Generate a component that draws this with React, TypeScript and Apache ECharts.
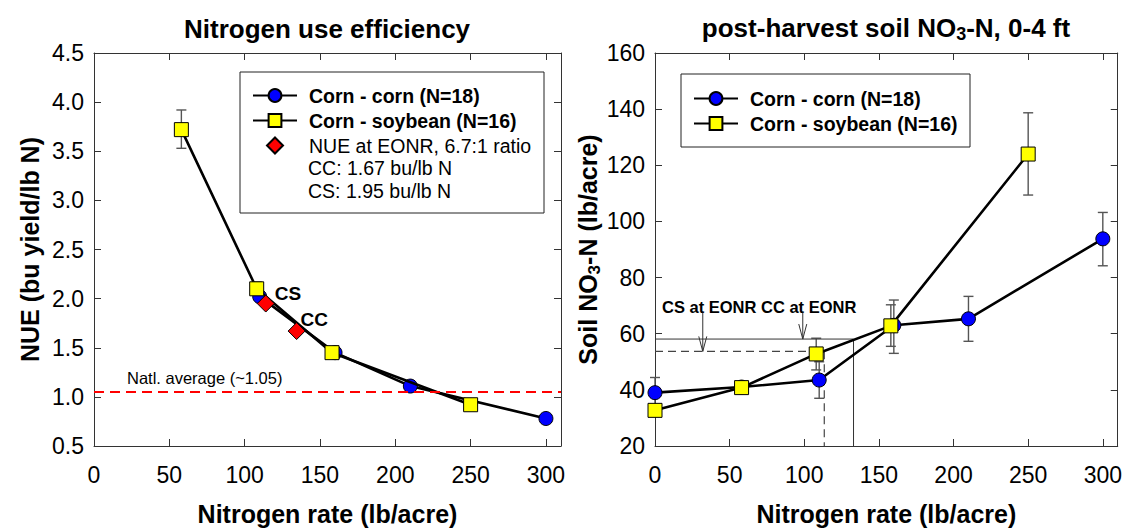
import React, { useEffect, useRef } from 'react';
import * as echarts from 'echarts';

const FONT = '"Liberation Sans", Arial, Helvetica, sans-serif';

// ---------- Left panel: Nitrogen use efficiency ----------
const xTicks = [0, 50, 100, 150, 200, 250, 300];
const ccRateL = [110, 160, 210, 300];
const ccNUE = [2.02, 1.45, 1.11, 0.78];
const ccNUELow = [1.98, 1.42, 1.09, 0.76];
const ccNUEHigh = [2.07, 1.48, 1.13, 0.8];
const csRateL = [58, 108, 158, 250];
const csNUE = [3.72, 2.1, 1.45, 0.92];
const csNUELow = [3.53, 2.04, 1.42, 0.9];
const csNUEHigh = [3.92, 2.17, 1.48, 0.94];
const eonrNames = ['CS', 'CC'];
const eonrRate = [114, 134.5];
const eonrNUE = [1.95, 1.67];
const natlAvg = 1.05;

// ---------- Right panel: post-harvest soil NO3-N ----------
const ccRateR = [0, 58, 110, 160, 210, 300];
const ccNO3 = [39, 41, 43.5, 63, 65.3, 93.8];
const ccNO3Low = [34, 39.5, 37, 53, 57.3, 84.2];
const ccNO3High = [44.4, 42.5, 50, 72, 73.3, 103.2];
const csRateR = [0, 58, 108, 158, 250];
const csNO3 = [32.7, 40.8, 52.8, 62.8, 124];
const csNO3Low = [31, 39.5, 47.1, 55.5, 109.4];
const csNO3High = [34.5, 42.2, 58.4, 70.3, 138.7];
const eonrRefRate = [113.4, 133]; // CS, CC
const eonrRefNO3 = [53.7, 58.1]; // CS, CC
const arrowRate = [32, 99]; // CS, CC arrows
const arrowTop = 67.5;

const CC_NAME = 'Corn - corn (N=18)';
const CS_NAME = 'Corn - soybean (N=16)';
const EONR_NAME = 'NUE at EONR, 6.7:1 ratio';

const zip = (xs: number[], ys: number[]) => xs.map((x, i) => [x, ys[i]]);

function errorBars(name: string, gi: number, xs: number[], lo: number[], hi: number[]) {
  return {
    type: 'custom',
    name,
    xAxisIndex: gi * 2,
    yAxisIndex: gi * 2,
    silent: true,
    z: 1,
    data: xs.map((x, i) => [x, lo[i], hi[i]]),
    encode: { x: 0, y: [1, 2] },
    renderItem: (_p: any, api: any) => {
      const x = api.value(0);
      const a = api.coord([x, api.value(1)]);
      const b = api.coord([x, api.value(2)]);
      const w = 5;
      const style = { stroke: '#555', lineWidth: 1.4, fill: 'none' };
      return {
        type: 'group',
        children: [
          { type: 'line', shape: { x1: a[0], y1: a[1], x2: b[0], y2: b[1] }, style },
          { type: 'line', shape: { x1: a[0] - w, y1: a[1], x2: a[0] + w, y2: a[1] }, style },
          { type: 'line', shape: { x1: b[0] - w, y1: b[1], x2: b[0] + w, y2: b[1] }, style },
        ],
      };
    },
  };
}

function lineSeries(name: string, gi: number, data: number[][], kind: 'cc' | 'cs') {
  return {
    type: 'line',
    name,
    xAxisIndex: gi * 2,
    yAxisIndex: gi * 2,
    data,
    symbol: kind === 'cc' ? 'circle' : 'rect',
    symbolSize: 14,
    itemStyle: {
      color: kind === 'cc' ? '#0000ff' : '#ffff00',
      borderColor: '#000',
      borderWidth: 1,
    },
    lineStyle: { color: '#000', width: 2.6 },
    z: kind === 'cc' ? 3 : 4,
  };
}

function xAxes(gi: number) {
  const base = {
    gridIndex: gi,
    type: 'value',
    min: 0,
    max: 310,
    interval: 50,
    splitLine: { show: false },
    axisLine: { show: true, onZero: false, lineStyle: { color: '#333', width: 1 } },
    axisTick: { show: true, inside: true, length: 7, lineStyle: { color: '#333' } },
  };
  return [
    {
      ...base,
      position: 'bottom',
      axisLabel: {
        show: true,
        fontSize: 23,
        color: '#000',
        fontFamily: FONT,
        margin: 17,
        showMaxLabel: false,
        formatter: (v: number) => (xTicks.includes(v) ? String(v) : ''),
      },
      name: 'Nitrogen rate (lb/acre)',
      nameLocation: 'middle',
      nameGap: 55,
      nameTextStyle: { fontSize: 25, fontWeight: 'bold', color: '#000', fontFamily: FONT },
    },
    { ...base, position: 'top', axisLabel: { show: false } },
  ];
}

function yAxes(gi: number, min: number, max: number, interval: number, digits: number, name: string, nameGap: number) {
  const base = {
    gridIndex: gi,
    type: 'value',
    min,
    max,
    interval,
    splitLine: { show: false },
    axisLine: { show: true, onZero: false, lineStyle: { color: '#333', width: 1 } },
    axisTick: { show: true, inside: true, length: 7, lineStyle: { color: '#333' } },
  };
  return [
    {
      ...base,
      position: 'left',
      axisLabel: {
        show: true,
        fontSize: 23,
        color: '#000',
        fontFamily: FONT,
        margin: 10,
        formatter: (v: number) => v.toFixed(digits),
      },
      name,
      nameLocation: 'middle',
      nameGap,
      nameTextStyle: {
        fontSize: 25,
        fontWeight: 'bold',
        color: '#000',
        fontFamily: FONT,
        lineHeight: 30,
        rich: {
          sub: { fontSize: 17, fontWeight: 'bold', fontFamily: FONT, color: '#000', verticalAlign: 'bottom' },
        },
      },
    },
    { ...base, position: 'right', axisLabel: { show: false } },
  ];
}

export default function App() {
  const ref = useRef<HTMLDivElement>(null);
  useEffect(() => {
    if (!ref.current) return;
    const chart = echarts.init(ref.current, undefined, { renderer: 'svg' });
    const option: any = {
      animation: false,
      backgroundColor: '#fff',
      textStyle: { fontFamily: FONT },
      grid: [
        { left: 94, top: 53, width: 467, height: 398 },
        { left: 655, top: 53, width: 466, height: 398 },
      ],
      xAxis: [...xAxes(0), ...xAxes(1)],
      yAxis: [
        ...yAxes(0, 0.5, 4.5, 0.5, 1, 'NUE (bu yield/lb N)', 49),
        ...yAxes(1, 20, 160, 20, 0, 'Soil NO{sub|3}-N (lb/acre)', 38),
      ],
      legend: [
        {
          orient: 'vertical',
          left: 252,
          top: 84,
          padding: 0,
          itemWidth: 44,
          itemHeight: 16,
          itemGap: 2,
          selectedMode: false,
          textStyle: { fontSize: 19.5, lineHeight: 23, color: '#000', fontFamily: FONT, padding: [0, 0, 0, 7] },
          data: [
            { name: CC_NAME, textStyle: { fontWeight: 'bold' } },
            { name: CS_NAME, textStyle: { fontWeight: 'bold' } },
            { name: EONR_NAME, icon: 'path://M0,-1L1,0L0,1L-1,0Z', textStyle: { fontWeight: 'normal' } },
          ],
        },
        {
          orient: 'vertical',
          left: 693,
          top: 87,
          padding: 0,
          itemWidth: 44,
          itemHeight: 16,
          itemGap: 2,
          selectedMode: false,
          textStyle: {
            fontSize: 19.5,
            lineHeight: 23,
            color: '#000',
            fontFamily: FONT,
            fontWeight: 'bold',
            padding: [0, 0, 0, 7],
          },
          data: [CC_NAME, CS_NAME],
        },
      ],
      graphic: [
        {
          type: 'text',
          x: 327,
          y: 29,
          style: {
            text: 'Nitrogen use efficiency',
            fontSize: 26,
            fontWeight: 'bold',
            fontFamily: FONT,
            fill: '#000',
            align: 'center',
            verticalAlign: 'middle',
          },
        },
        {
          type: 'text',
          x: 886,
          y: 28,
          style: {
            text: 'post-harvest soil NO{sub|3}-N, 0-4 ft',
            fontSize: 26,
            fontWeight: 'bold',
            fontFamily: FONT,
            fill: '#000',
            align: 'center',
            verticalAlign: 'middle',
            lineHeight: 30,
            rich: {
              sub: { fontSize: 18, fontWeight: 'bold', fontFamily: FONT, fill: '#000', verticalAlign: 'bottom' },
            },
          },
        },
        {
          type: 'rect',
          shape: { x: 240, y: 72, width: 304, height: 141 },
          style: { fill: 'none', stroke: '#222', lineWidth: 1 },
          z: 5,
        },
        {
          type: 'rect',
          shape: { x: 681, y: 74, width: 289, height: 73 },
          style: { fill: 'none', stroke: '#222', lineWidth: 1 },
          z: 5,
        },
        {
          type: 'text',
          x: 308,
          y: 168,
          style: { text: 'CC: 1.67 bu/lb N', fontSize: 19.5, fontFamily: FONT, fill: '#000', verticalAlign: 'middle' },
        },
        {
          type: 'text',
          x: 308,
          y: 191,
          style: { text: 'CS: 1.95 bu/lb N', fontSize: 19.5, fontFamily: FONT, fill: '#000', verticalAlign: 'middle' },
        },
        {
          type: 'text',
          x: 662,
          y: 307,
          style: {
            text: 'CS at EONR CC at EONR',
            fontSize: 16.5,
            fontWeight: 'bold',
            fontFamily: FONT,
            fill: '#000',
            verticalAlign: 'middle',
          },
        },
      ],
      series: [
        // left panel
        {
          type: 'line',
          name: 'natl',
          xAxisIndex: 0,
          yAxisIndex: 0,
          data: [],
          silent: true,
          markLine: {
            silent: true,
            symbol: 'none',
            lineStyle: { color: '#ff0000', type: [10, 6], width: 2 },
            label: {
              show: true,
              position: 'insideStartTop',
              formatter: 'Natl. average (~1.05)',
              distance: [33, 5],
              color: '#000',
              fontSize: 16.5,
              fontFamily: FONT,
            },
            data: [{ yAxis: natlAvg }],
          },
        },
        errorBars('errCCL', 0, ccRateL, ccNUELow, ccNUEHigh),
        errorBars('errCSL', 0, csRateL, csNUELow, csNUEHigh),
        lineSeries(CC_NAME, 0, zip(ccRateL, ccNUE), 'cc'),
        lineSeries(CS_NAME, 0, zip(csRateL, csNUE), 'cs'),
        {
          type: 'scatter',
          name: EONR_NAME,
          xAxisIndex: 0,
          yAxisIndex: 0,
          symbol: 'diamond',
          symbolSize: [17, 17],
          itemStyle: { color: '#ff0000', borderColor: '#000', borderWidth: 1, opacity: 1 },
          z: 6,
          label: {
            show: true,
            position: 'right',
            distance: 0,
            formatter: '{b}',
            fontSize: 19,
            fontWeight: 'bold',
            color: '#000',
            fontFamily: FONT,
          },
          data: eonrRate.map((x, i) => ({
            name: eonrNames[i],
            value: [x, eonrNUE[i]],
            label: { offset: i === 0 ? [0, -10] : [-5, -12] },
          })),
        },
        // right panel
        {
          type: 'line',
          name: 'refCC',
          xAxisIndex: 2,
          yAxisIndex: 2,
          silent: true,
          symbol: 'none',
          lineStyle: { color: '#333', width: 1 },
          z: 2,
          data: [
            [0, eonrRefNO3[1]],
            [eonrRefRate[1], eonrRefNO3[1]],
            [eonrRefRate[1], 20],
          ],
        },
        {
          type: 'line',
          name: 'refCS',
          xAxisIndex: 2,
          yAxisIndex: 2,
          silent: true,
          symbol: 'none',
          lineStyle: { color: '#444', width: 1.2, type: [8, 5] },
          z: 2,
          data: [
            [0, eonrRefNO3[0]],
            [eonrRefRate[0], eonrRefNO3[0]],
            [eonrRefRate[0], 20],
          ],
        },
        {
          type: 'custom',
          name: 'arrows',
          xAxisIndex: 2,
          yAxisIndex: 2,
          silent: true,
          z: 2,
          data: arrowRate.map((x, i) => [x, arrowTop, eonrRefNO3[i]]),
          encode: { x: 0, y: [1, 2] },
          renderItem: (_p: any, api: any) => {
            const x = api.value(0);
            const a = api.coord([x, api.value(1)]);
            const b = api.coord([x, api.value(2)]);
            const style = { stroke: '#333', lineWidth: 1, fill: 'none' };
            return {
              type: 'group',
              children: [
                { type: 'line', shape: { x1: a[0], y1: a[1], x2: b[0], y2: b[1] }, style },
                {
                  type: 'polyline',
                  shape: { points: [[b[0] - 4, b[1] - 15], [b[0], b[1]], [b[0] + 4, b[1] - 15]] },
                  style,
                },
              ],
            };
          },
        },
        errorBars('errCCR', 1, ccRateR, ccNO3Low, ccNO3High),
        errorBars('errCSR', 1, csRateR, csNO3Low, csNO3High),
        lineSeries(CC_NAME, 1, zip(ccRateR, ccNO3), 'cc'),
        lineSeries(CS_NAME, 1, zip(csRateR, csNO3), 'cs'),
      ],
    };
    chart.setOption(option);
    return () => chart.dispose();
  }, []);
  return (
    <div
      ref={ref}
      style={{ position: 'fixed', left: 0, top: 0, width: 1125, height: 531, background: '#fff' }}
    />
  );
}
